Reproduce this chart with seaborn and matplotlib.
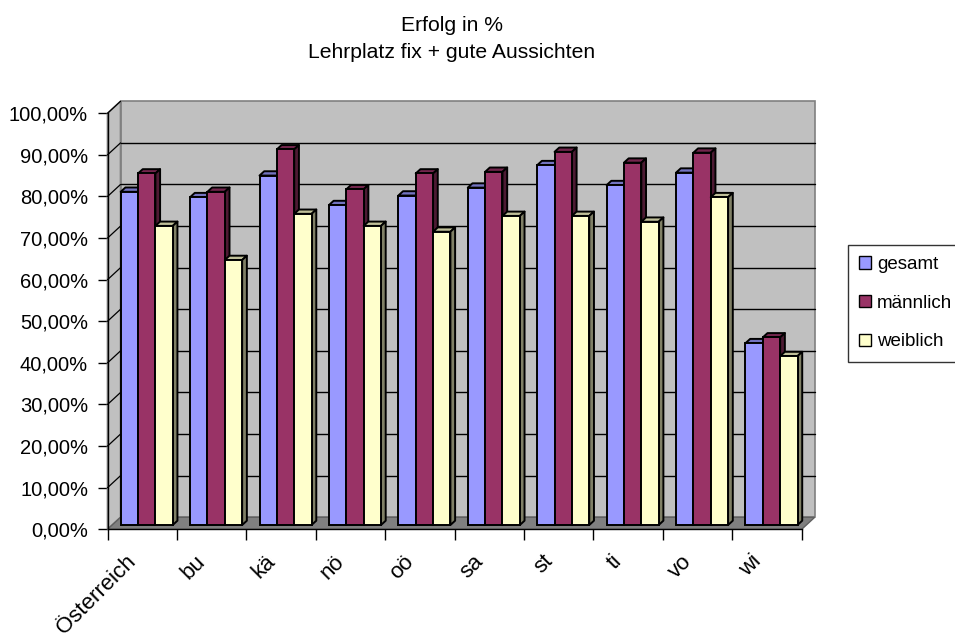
import numpy as np
import pandas as pd
import matplotlib
matplotlib.use("Agg")
import matplotlib.pyplot as plt
import seaborn as sns
from matplotlib.patches import Polygon, Rectangle
from matplotlib.transforms import ScaledTranslation, blended_transform_factory

# Erfolgsquoten je Bundesland (Anteil, 0..1)
regions = ["Österreich", "bu", "kä", "nö", "oö", "sa", "st", "ti", "vo", "wi"]
gesamt = [0.801, 0.788, 0.840, 0.769, 0.792, 0.811, 0.865, 0.817, 0.847, 0.437]
maennlich = [0.845, 0.801, 0.903, 0.807, 0.845, 0.849, 0.897, 0.871, 0.895, 0.451]
weiblich = [0.719, 0.637, 0.748, 0.719, 0.705, 0.743, 0.743, 0.729, 0.788, 0.406]
series = ["gesamt", "männlich", "weiblich"]
yticks = [0.0, 0.1, 0.2, 0.3, 0.4, 0.5, 0.6, 0.7, 0.8, 0.9, 1.0]

front_colors = ["#9999FF", "#993366", "#FFFFCC"]
top_colors = ["#7373C0", "#73264D", "#C0C099"]
side_colors = ["#4D4D80", "#4D1A33", "#808066"]

df = pd.DataFrame({
    "Region": regions * 3,
    "Serie": [s for s in series for _ in regions],
    "Wert": gesamt + maennlich + weiblich,
})

sns.set_theme(style="white")
plt.rcParams["font.family"] = ["Liberation Sans", "DejaVu Sans"]
plt.rcParams["text.color"] = "black"
plt.rcParams["xtick.color"] = "black"
plt.rcParams["ytick.color"] = "black"
plt.rcParams["axes.labelcolor"] = "black"

W, H = 955, 639
DPI = 100
fig = plt.figure(figsize=(W / DPI, H / DPI), dpi=DPI)
fig.patch.set_facecolor("white")

# front plane of the chart box (pixel geometry)
x_left, x_right = 107.5, 801.7
y_zero, y_top = 529.3, 113.3
ax = fig.add_axes([x_left / W, (H - y_zero) / H,
                   (x_right - x_left) / W, (y_zero - y_top) / H])
ax.set_xlim(-0.5, len(regions) - 0.5)
ax.set_ylim(0, 1)
ax.patch.set_alpha(0)

ux = (len(regions)) / (x_right - x_left)   # data units per pixel (x)
uy = 1.0 / (y_zero - y_top)                # data units per pixel (y)

# depth of the box (back wall offset) and of the columns
WALL_DX, WALL_DY = 13, 12
BAR_DX, BAR_DY = 4.5, 4.3
DEP_DX, DEP_DY = 4.7, 4.3

def px_shift(dx, dy):
    return ax.transData + ScaledTranslation(dx / DPI, dy / DPI, fig.dpi_scale_trans)

wall = "#C0C0C0"
edge = "#808080"
x0, x1 = -0.5, len(regions) - 0.5
wdx, wdy = WALL_DX * ux, WALL_DY * uy

# back wall
ax.add_patch(Rectangle((x0 + wdx, wdy), x1 - x0, 1.0, facecolor=wall,
                       edgecolor=edge, lw=1.2, clip_on=False, zorder=0.5))
# left side wall
ax.add_patch(Polygon([(x0, 0), (x0, 1), (x0 + wdx, 1 + wdy), (x0 + wdx, wdy)],
                     closed=True, facecolor=wall, edgecolor=edge, lw=1.2,
                     clip_on=False, zorder=0.6))
# floor
ax.add_patch(Polygon([(x0, 0), (x1, 0), (x1 + wdx, wdy), (x0 + wdx, wdy)],
                     closed=True, facecolor="#808080", edgecolor="#606060", lw=1,
                     clip_on=False, zorder=0.7))
# gridlines on the back wall and diagonal guides on the side wall
for v in yticks[1:-1]:
    ax.plot([x0 + wdx, x1 + wdx], [v + wdy, v + wdy], color="black", lw=1.0,
            clip_on=False, zorder=0.8)
for v in yticks[1:]:
    ax.plot([x0, x0 + wdx], [v, v + wdy], color="black", lw=0.9,
            clip_on=False, zorder=0.8)

sns.barplot(data=df, x="Region", y="Wert", hue="Serie", hue_order=series,
            order=regions, palette=front_colors, saturation=1, width=0.75,
            gap=0, edgecolor="black", linewidth=1.4, legend=False, ax=ax)

bars = [p for p in ax.patches if isinstance(p, Rectangle) and p.get_height() > 0
        and p.get_facecolor()[3] > 0 and p.get_width() < 1]
ddx, ddy = DEP_DX * ux, DEP_DY * uy
tr = px_shift(BAR_DX, BAR_DY)
fc_lookup = {tuple(np.round(matplotlib.colors.to_rgba(c), 3)): i
             for i, c in enumerate(front_colors)}
for p in bars:
    bx, bw, bh = p.get_x(), p.get_width(), p.get_height()
    si = fc_lookup.get(tuple(np.round(p.get_facecolor(), 3)), 0)
    z = 2 + bx * 0.01
    p.set_transform(tr)
    p.set_zorder(z + 0.002)
    p.set_clip_on(False)
    top = Polygon([(bx, bh), (bx + ddx, bh + ddy), (bx + bw + ddx, bh + ddy), (bx + bw, bh)],
                  closed=True, facecolor=top_colors[si], edgecolor="black", lw=1.4,
                  transform=tr, zorder=z, clip_on=False, joinstyle="round")
    side = Polygon([(bx + bw, 0), (bx + bw + ddx, ddy), (bx + bw + ddx, bh + ddy), (bx + bw, bh)],
                   closed=True, facecolor=side_colors[si], edgecolor="black", lw=1.4,
                   transform=tr, zorder=z, clip_on=False, joinstyle="round")
    ax.add_patch(top)
    ax.add_patch(side)

# axes lines and ticks
for s in ["top", "right"]:
    ax.spines[s].set_visible(False)
for s in ["left", "bottom"]:
    ax.spines[s].set_color("black")
    ax.spines[s].set_linewidth(1.0)
    ax.spines[s].set_zorder(5)

ax.set_yticks(yticks)
ax.set_yticklabels([f"{v * 100:.2f}%".replace(".", ",") for v in yticks])
ax.tick_params(axis="y", direction="out", length=7, width=1, color="black",
               labelcolor="black", labelsize=14.5, pad=7, left=True)
ax.set_xticks(np.arange(-0.5, len(regions), 1.0))
ax.set_xticklabels([])
ax.tick_params(axis="x", direction="out", length=8, width=1, color="black",
               bottom=True)
ax.set_xlabel("")
ax.set_ylabel("")
ax.grid(False)

lab_tr = blended_transform_factory(ax.transData, ax.transAxes) + \
    ScaledTranslation(-9 / DPI, -29 / DPI, fig.dpi_scale_trans)
for i, name in enumerate(regions):
    ax.text(i, 0, name, rotation=45, ha="right", va="center",
            rotation_mode="anchor", fontsize=16, color="black", transform=lab_tr)

# title
fig.text(452 / W, 1 - 30.7 / H, "Erfolg in %", ha="center", va="baseline",
         fontsize=15.2, color="black")
fig.text(452 / W, 1 - 58 / H, "Lehrplatz fix + gute Aussichten", ha="center",
         va="baseline", fontsize=15.2, color="black")

# legend
handles = [Rectangle((0, 0), 1, 1, facecolor=c, edgecolor="black", lw=1.0)
           for c in front_colors]
leg = fig.legend(handles, series, loc="upper left",
                 bbox_to_anchor=(848 / W, 1 - 245 / H), frameon=True,
                 fancybox=False, edgecolor="black", fontsize=13.5,
                 handlelength=0.65, handleheight=0.65, handletextpad=0.3,
                 borderpad=0.6, labelspacing=1.15, borderaxespad=0)
leg.get_frame().set_linewidth(1.0)
for t in leg.get_texts():
    t.set_color("black")

fig.savefig("out.png", dpi=DPI, facecolor="white")
